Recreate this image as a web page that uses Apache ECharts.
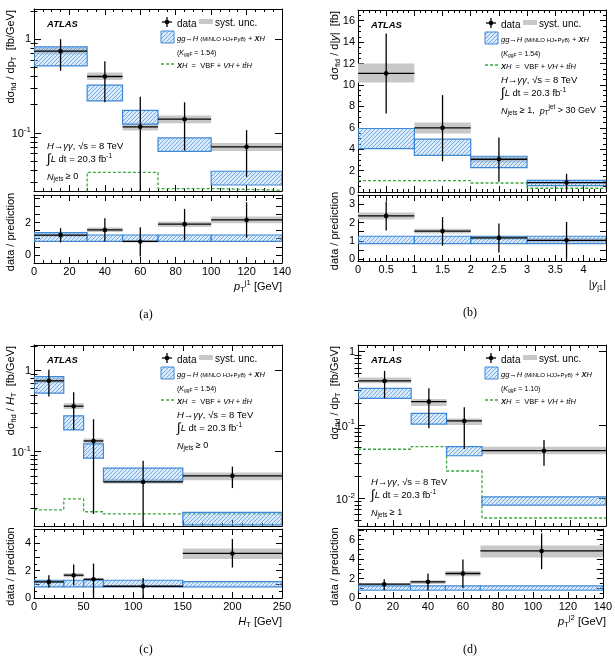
<!DOCTYPE html>
<html>
<head>
<meta charset="utf-8">
<script src="https://cdn.jsdelivr.net/npm/echarts@6/dist/echarts.min.js"></script>
<style>
html, body { margin: 0; padding: 0; background: #fff; }
#chart { width: 615px; height: 669px; }
</style>
</head>
<body>
<div id="chart"></div>
<script>
// (a) leading jet pT
var aEdges = [0, 30, 50, 70, 100, 140];
var aPointX = [15, 40, 60, 85, 120];
var aXsec = [0.745, 0.40, 0.116, 0.14, 0.071];
var aErrLo = [0.46, 0.212, 0.001, 0.065, 0.034];
var aErrHi = [1.0, 0.58, 0.243, 0.212, 0.107];
var aSystLo = [0.69, 0.366, 0.106, 0.127, 0.064];
var aSystHi = [0.81, 0.44, 0.125, 0.153, 0.078];
var aPredLo = [0.52, 0.22, 0.124, 0.0636, 0.0278];
var aPredHi = [0.83, 0.324, 0.174, 0.0886, 0.039];
var aXH = [0.02, 0.038, 0.038, 0.0255, 0.0245];
var aRatio = [1.22, 1.54, 0.83, 1.9, 2.16];
var aRatioLo = [0.77, 0.83, -0.1, 0.89, 1.07];
var aRatioHi = [1.65, 2.27, 1.71, 2.84, 3.25];
var aRatioSystLo = [1.12, 1.41, 0.76, 1.73, 1.96];
var aRatioSystHi = [1.32, 1.69, 0.9, 2.07, 2.37];
var aRatioPredLo = [0.83, 0.83, 0.83, 0.83, 0.83];
var aRatioPredHi = [1.38, 1.23, 1.23, 1.23, 1.23];

// (b) leading jet rapidity
var bEdges = [0, 1, 2, 3, 4.4];
var bPointX = [0.5, 1.5, 2.5, 3.7];
var bXsec = [11.08, 5.99, 3.06, 0.88];
var bErrLo = [7.33, 2.87, 0.96, 0.03];
var bErrHi = [14.8, 9.05, 5.1, 1.7];
var bSystLo = [10.23, 5.46, 2.78, 0.78];
var bSystHi = [12.0, 6.49, 3.34, 0.98];
var bPredLo = [4.06, 3.43, 2.28, 0.6];
var bPredHi = [5.93, 4.93, 3.34, 1.09];
var bXH = [1.07, 1.07, 0.84, 0.35];
var bRatio = [2.36, 1.53, 1.16, 1.03];
var bRatioLo = [1.56, 0.73, 0.37, 0.0];
var bRatioHi = [3.15, 2.3, 1.95, 2.03];
var bRatioSystLo = [2.17, 1.40, 1.06, 0.91];
var bRatioSystHi = [2.54, 1.66, 1.26, 1.15];
var bRatioPredLo = [0.85, 0.85, 0.85, 0.85];
var bRatioPredHi = [1.25, 1.25, 1.25, 1.25];

// (c) HT
var cEdges = [0, 30, 50, 70, 150, 250];
var cPointX = [15, 40, 60, 110, 200];
var cXsec = [0.746, 0.363, 0.135, 0.042, 0.050];
var cErrLo = [0.478, 0.185, 0.0169, 0.001, 0.0353];
var cErrHi = [1.02, 0.54, 0.25, 0.077, 0.065];
var cSystLo = [0.70, 0.334, 0.127, 0.040, 0.044];
var cSystHi = [0.81, 0.396, 0.145, 0.046, 0.055];
var cPredLo = [0.526, 0.185, 0.083, 0.0427, 0.0124];
var cPredHi = [0.84, 0.276, 0.124, 0.0624, 0.0177];
var cXH = [0.019, 0.026, 0.018, 0.0169, 0.0169];
var cRatio = [1.18, 1.67, 1.37, 0.86, 3.26];
var cRatioLo = [0.76, 0.93, 0.0, 0.0, 2.23];
var cRatioHi = [1.67, 2.45, 2.52, 1.47, 4.32];
var cRatioSystLo = [1.09, 1.52, 1.29, 0.8, 2.85];
var cRatioSystHi = [1.27, 1.82, 1.45, 0.92, 3.63];
var cRatioPredLo = [0.81, 0.81, 0.81, 0.81, 0.82];
var cRatioPredHi = [1.3, 1.3, 1.3, 1.3, 1.2];

// (d) subleading jet pT
var dEdges = [0, 30, 50, 70, 140];
var dPointX = [15, 40, 60, 105];
var dXsec = [0.398, 0.208, 0.1135, 0.0446];
var dErrLo = [0.231, 0.0902, 0.047, 0.0279];
var dErrHi = [0.546, 0.316, 0.174, 0.0624];
var dSystLo = [0.371, 0.182, 0.10, 0.0398];
var dSystHi = [0.442, 0.226, 0.123, 0.0506];
var dPredLo = [0.231, 0.103, 0.0381, 0.0081];
var dPredHi = [0.316, 0.144, 0.0506, 0.0105];
var dXH = [0.0467, 0.0506, 0.0236, 0.0054];
var dRatio = [1.42, 1.66, 2.52, 4.84];
var dRatioLo = [0.8, 0.8, 1.04, 2.97];
var dRatioHi = [1.94, 2.52, 3.97, 6.66];
var dRatioSystLo = [1.33, 1.45, 2.24, 4.18];
var dRatioSystHi = [1.52, 1.82, 2.77, 5.39];
var dRatioPredLo = [0.8, 0.8, 0.8, 0.8];
var dRatioPredHi = [1.24, 1.24, 1.24, 1.24];

var FONT = '"Liberation Sans", Arial, Helvetica, sans-serif';
var GREY = '#c8c8c8';
var BLUE = '#3f88d6';
var GREEN = '#3aa83a';

function makeHatch() {
    var c = document.createElement('canvas');
    c.width = 4; c.height = 4;
    var ctx = c.getContext('2d');
    ctx.fillStyle = 'rgba(150,195,240,0.35)';
    ctx.fillRect(0, 0, 4, 4);
    ctx.strokeStyle = '#5b9de0';
    ctx.lineWidth = 0.8;
    ctx.beginPath();
    ctx.moveTo(-1, 5); ctx.lineTo(5, -1);
    ctx.moveTo(-1, 1); ctx.lineTo(1, -1);
    ctx.moveTo(3, 5); ctx.lineTo(5, 3);
    ctx.stroke();
    return c;
}
var HATCH = {image: makeHatch(), repeat: 'repeat'};

// rich text styles with sub/superscripts, for a base font size f
function rich(f) {
    var P = 3, lh = f + 2, fs = Math.round(f * 7) / 10, slh = fs + 1;
    var mc = P + lh / 2;
    function tok(extra) {
        return Object.assign({fontFamily: FONT, fontSize: f, lineHeight: lh, padding: [P, 0, 0, 0],
            verticalAlign: 'top', fill: '#000', color: '#000'}, extra);
    }
    var sm = f * 0.8, big = f * 1.4;
    return {
        n: tok({}),
        i: tok({fontStyle: 'italic'}),
        bi: tok({fontStyle: 'italic', fontWeight: 'bold'}),
        b: tok({fontWeight: 'bold'}),
        sm: tok({fontSize: sm, lineHeight: sm + 2, padding: [mc - (sm + 2) / 2, 0, 0, 0]}),
        sub: tok({fontSize: fs, lineHeight: slh, padding: [mc + 0.2 * f - slh / 2, 0, 0, 0]}),
        sup: tok({fontSize: fs, lineHeight: slh, padding: [Math.max(0, mc - 0.4 * f - slh / 2), 0, 0, 0]}),
        big: tok({fontSize: big, lineHeight: big + 2, padding: [Math.max(0, mc - (big + 2) / 2), 0, 0, 0]})
    };
}

function txt(x, y, text, f, align, rotation) {
    return {type: 'text', x: x, y: y, rotation: rotation || 0, silent: true,
        style: {text: text, rich: rich(f), fill: '#000', fontFamily: FONT, fontSize: f,
            align: align || 'left', verticalAlign: 'middle'}};
}
function seg(x1, y1, x2, y2, color, w, dash) {
    return {type: 'line', silent: true, shape: {x1: x1, y1: y1, x2: x2, y2: y2},
        style: {stroke: color, lineWidth: w, lineDash: dash || null}};
}

var panels = [
    {label: '(a)', edges: aEdges, px: aPointX, y: aXsec, lo: aErrLo, hi: aErrHi, sLo: aSystLo, sHi: aSystHi,
     pLo: aPredLo, pHi: aPredHi, xh: aXH, r: aRatio, rLo: aRatioLo, rHi: aRatioHi, rsLo: aRatioSystLo,
     rsHi: aRatioSystHi, rpLo: aRatioPredLo, rpHi: aRatioPredHi,
     left: 34, top: 9, h: 182, rTop: 195, rH: 68,
     xs: {min: 0, max: 140, interval: 20, minor: 4},
     ys: {log: true, min: 0.024, max: 2.1},
     rys: {min: -0.5, max: 3.7, interval: 0.5, labelStep: 2, minor: 0},
     ytitle: '{n|dσ}{sub|fid}{n| / dp}{sub|T}{n|  [fb/GeV]}',
     xtitle: '{i|p}{sub|T}{sup|j1}{n| [GeV]}',
     gen: 'HJ', k: '1.54', infoLow: true, njets: '{i|N}{sub|jets}{n| ≥ 0}'},
    {label: '(b)', edges: bEdges, px: bPointX, y: bXsec, lo: bErrLo, hi: bErrHi, sLo: bSystLo, sHi: bSystHi,
     pLo: bPredLo, pHi: bPredHi, xh: bXH, r: bRatio, rLo: bRatioLo, rHi: bRatioHi, rsLo: bRatioSystLo,
     rsHi: bRatioSystHi, rpLo: bRatioPredLo, rpHi: bRatioPredHi,
     left: 358, top: 10, h: 182, rTop: 195, rH: 66,
     xs: {min: 0, max: 4.4, interval: 0.5, minor: 5},
     ys: {min: 0, max: 17, interval: 2, labelStep: 2, minor: 4},
     rys: {min: -0.1, max: 3.5, split: 7, labelStep: 1, minor: 0},
     ytitle: '{n|dσ}{sub|fid}{n| / d|}{i|y}{n||  [fb]}',
     xtitle: '{n||}{i|y}{sub|j1}{n||}',
     gen: 'HJ', k: '1.54', infoLow: false,
     njets: '{i|N}{sub|jets}{n| ≥ 1,  }{i|p}{sub|T}{sup|jet}{n| > 30 GeV}'},
    {label: '(c)', edges: cEdges, px: cPointX, y: cXsec, lo: cErrLo, hi: cErrHi, sLo: cSystLo, sHi: cSystHi,
     pLo: cPredLo, pHi: cPredHi, xh: cXH, r: cRatio, rLo: cRatioLo, rHi: cRatioHi, rsLo: cRatioSystLo,
     rsHi: cRatioSystHi, rpLo: cRatioPredLo, rpHi: cRatioPredHi,
     left: 34, top: 345, h: 181, rTop: 529, rH: 69,
     xs: {min: 0, max: 250, interval: 50, minor: 5},
     ys: {log: true, min: 0.012, max: 2.07},
     rys: {min: 0, max: 5.05, interval: 1, labelStep: 2, minor: 2},
     ytitle: '{n|dσ}{sub|fid}{n| / }{i|H}{sub|T}{n|  [fb/GeV]}',
     xtitle: '{i|H}{sub|T}{n| [GeV]}',
     gen: 'HJ', k: '1.54', infoLow: false, njets: '{i|N}{sub|jets}{n| ≥ 0}'},
    {label: '(d)', edges: dEdges, px: dPointX, y: dXsec, lo: dErrLo, hi: dErrHi, sLo: dSystLo, sHi: dSystHi,
     pLo: dPredLo, pHi: dPredHi, xh: dXH, r: dRatio, rLo: dRatioLo, rHi: dRatioHi, rsLo: dRatioSystLo,
     rsHi: dRatioSystHi, rpLo: dRatioPredLo, rpHi: dRatioPredHi,
     left: 358, top: 345, h: 181, rTop: 529, rH: 69,
     xs: {min: 0, max: 140, interval: 20, minor: 4},
     ys: {log: true, min: 0.0042, max: 1.23},
     rys: {min: 0, max: 7.1, interval: 1, labelStep: 2, minor: 2},
     ytitle: '{n|dσ}{sub|fid}{n| / dp}{sub|T}{n|  [fb/GeV]}',
     xtitle: '{i|p}{sub|T}{sup|j2}{n| [GeV]}',
     gen: 'HJJ', k: '1.10', infoLow: true, njets: '{i|N}{sub|jets}{n| ≥ 1}'}
];

var AXLINE = {onZero: false, lineStyle: {color: '#000', width: 1}};
var LABEL = {fontFamily: FONT, fontSize: 11, color: '#000'};

function stepLabel(step) {
    return function (v) {
        var q = v / step;
        return Math.abs(q - Math.round(q)) < 1e-6 ? String(+v.toFixed(4)) : '';
    };
}
function logLabel(v) {
    var l = Math.log10(v), r = Math.round(l);
    if (Math.abs(l - r) > 1e-4) return '';
    return r === 0 ? '{b|1}' : '{b|10}{s|' + r + '}';
}

function xAxes(g, s, labels) {
    var common = {type: 'value', gridIndex: g, min: s.min, max: s.max, interval: s.interval,
        axisLine: AXLINE, splitLine: {show: false},
        axisTick: {inside: true, length: 6, lineStyle: {color: '#000'}},
        minorTick: {show: true, splitNumber: s.minor, length: 3, lineStyle: {color: '#000'}}};
    return [
        Object.assign({}, common, {position: 'bottom', axisLabel: labels
            ? Object.assign({margin: 3, formatter: stepLabel(s.interval)}, LABEL) : {show: false}}),
        Object.assign({}, common, {position: 'top', axisLabel: {show: false}})
    ];
}

function yAxes(g, s) {
    if (s.log) {
        var minors = [];
        for (var k = Math.floor(Math.log10(s.min)); k <= Math.ceil(Math.log10(s.max)); k++) {
            for (var m = 2; m <= 9; m++) {
                var v = m * Math.pow(10, k);
                if (v > s.min && v < s.max) minors.push(v);
            }
        }
        var lc = {type: 'log', logBase: 10, gridIndex: g, min: s.min, max: s.max,
            axisLine: AXLINE, splitLine: {show: false},
            axisTick: {inside: true, length: 7, lineStyle: {color: '#000'}}};
        var mc = Object.assign({}, lc, {axisLine: {show: false}, axisLabel: {show: false},
            axisTick: {inside: true, length: 3.5, customValues: minors, lineStyle: {color: '#000'}}});
        return [
            Object.assign({}, lc, {position: 'left', axisLabel: Object.assign({margin: 3, formatter: logLabel,
                rich: {b: {fontFamily: FONT, fontSize: 11, color: '#000', verticalAlign: 'bottom'},
                       s: {fontFamily: FONT, fontSize: 8, color: '#000', verticalAlign: 'top', padding: [0, 0, 6, 0]}}}, LABEL)}),
            Object.assign({}, lc, {position: 'right', axisLabel: {show: false}}),
            Object.assign({}, mc, {position: 'left'}),
            Object.assign({}, mc, {position: 'right'})
        ];
    }
    var common = {type: 'value', gridIndex: g, min: s.min, max: s.max, interval: s.interval,
        splitNumber: s.split || 5, axisLine: AXLINE, splitLine: {show: false},
        axisTick: {inside: true, length: 6, lineStyle: {color: '#000'}},
        minorTick: {show: s.minor > 0, splitNumber: s.minor || 2, length: 3, lineStyle: {color: '#000'}}};
    return [
        Object.assign({}, common, {position: 'left',
            axisLabel: Object.assign({margin: 3, formatter: stepLabel(s.labelStep)}, LABEL)}),
        Object.assign({}, common, {position: 'right', axisLabel: {show: false}})
    ];
}

function bins(edges, lo, hi) {
    return lo.map(function (v, i) { return [edges[i], edges[i + 1], v, hi[i]]; });
}
function points(edges, px, y, lo, hi) {
    return y.map(function (v, i) { return [edges[i], edges[i + 1], px[i], v, lo[i], hi[i]]; });
}
function steps(edges, v) {
    return edges.map(function (e, i) { return [e, v[Math.min(i, v.length - 1)]]; });
}

function boxSeries(xi, yi, data, style, z) {
    return {type: 'custom', xAxisIndex: xi, yAxisIndex: yi, clip: true, silent: true, z: z,
        encode: {x: [0, 1], y: [2, 3]}, data: data,
        renderItem: function (params, api) {
            var a = api.coord([api.value(0), api.value(3)]);
            var b = api.coord([api.value(1), api.value(2)]);
            return {type: 'rect', shape: {x: a[0], y: a[1], width: b[0] - a[0], height: b[1] - a[1]}, style: style};
        }};
}
function dataSeries(xi, yi, data) {
    return {type: 'custom', xAxisIndex: xi, yAxisIndex: yi, clip: true, silent: true, z: 5,
        encode: {x: [0, 1, 2], y: [3, 4, 5]}, data: data,
        renderItem: function (params, api) {
            var l = api.coord([api.value(0), api.value(3)]);
            var r = api.coord([api.value(1), api.value(3)]);
            var t = api.coord([api.value(2), api.value(5)]);
            var b = api.coord([api.value(2), api.value(4)]);
            var ln = {stroke: '#000', lineWidth: 1.3};
            return {type: 'group', children: [
                {type: 'line', shape: {x1: l[0], y1: l[1], x2: r[0], y2: r[1]}, style: ln},
                {type: 'line', shape: {x1: t[0], y1: t[1], x2: b[0], y2: b[1]}, style: ln},
                {type: 'circle', shape: {cx: t[0], cy: l[1], r: 2.3}, style: {fill: '#000'}}
            ]};
        }};
}

var option = {animation: false, backgroundColor: '#fff', grid: [], xAxis: [], yAxis: [], series: [], graphic: {elements: []}};
var els = option.graphic.elements;
var PRED = {fill: HATCH, stroke: BLUE, lineWidth: 1.2};

panels.forEach(function (p) {
    var right = p.left + 248;
    var g = option.grid.length;
    option.grid.push({left: p.left, top: p.top, width: 248, height: p.h});
    option.grid.push({left: p.left, top: p.rTop, width: 248, height: p.rH});
    var xm = option.xAxis.length;
    option.xAxis = option.xAxis.concat(xAxes(g, p.xs, false));
    var xr = option.xAxis.length;
    option.xAxis = option.xAxis.concat(xAxes(g + 1, p.xs, true));
    var ym = option.yAxis.length;
    option.yAxis = option.yAxis.concat(yAxes(g, p.ys));
    var yr = option.yAxis.length;
    option.yAxis = option.yAxis.concat(yAxes(g + 1, p.rys));

    // main panel
    option.series.push(boxSeries(xm, ym, bins(p.edges, p.sLo, p.sHi), {fill: GREY}, 1));
    option.series.push({type: 'line', xAxisIndex: xm, yAxisIndex: ym, step: 'end', showSymbol: false,
        symbol: 'none', clip: true, silent: true, z: 2, data: steps(p.edges, p.xh),
        lineStyle: {color: GREEN, width: 1.3, type: [3, 2]}});
    option.series.push(boxSeries(xm, ym, bins(p.edges, p.pLo, p.pHi), PRED, 3));
    option.series.push(dataSeries(xm, ym, points(p.edges, p.px, p.y, p.lo, p.hi)));

    // ratio panel
    option.series.push(boxSeries(xr, yr, bins(p.edges, p.rsLo, p.rsHi), {fill: GREY}, 1));
    option.series.push(boxSeries(xr, yr, bins(p.edges, p.rpLo, p.rpHi), PRED, 3));
    option.series.push(dataSeries(xr, yr, points(p.edges, p.px, p.r, p.rLo, p.rHi)));

    // titles
    els.push(txt(p.left - 25, p.top + 1, p.ytitle, 11, 'right', Math.PI / 2));
    els.push(txt(p.left - 25, p.rTop + p.rH / 2 + 3, '{n|data / prediction}', 11, 'center', Math.PI / 2));
    els.push(txt(right, p.rTop + p.rH + 22, p.xtitle, 11, 'right'));
    els.push({type: 'text', x: p.left + 112, y: p.rTop + p.rH + 52, silent: true,
        style: {text: p.label, fill: '#000', fontFamily: '"Liberation Serif", "DejaVu Serif", serif',
            fontSize: 12, align: 'center', verticalAlign: 'middle'}});
    els.push(txt(p.left + 13, p.top + 13, '{bi|ATLAS}', 9.5));

    // legend
    var x0 = right - 121, y0 = p.top + 13;
    els.push(seg(x0 + 1, y0, x0 + 11, y0, '#000', 1.3));
    els.push(seg(x0 + 6, y0 - 5, x0 + 6, y0 + 5, '#000', 1.3));
    els.push({type: 'circle', silent: true, shape: {cx: x0 + 6, cy: y0, r: 2.3}, style: {fill: '#000'}});
    els.push(txt(x0 + 16, y0, '{n|data}', 10));
    els.push({type: 'rect', silent: true, shape: {x: x0 + 38, y: y0 - 3, width: 14, height: 5}, style: {fill: GREY}});
    els.push(txt(x0 + 54, y0 - 1, '{n|syst. unc.}', 10));
    els.push({type: 'rect', silent: true, shape: {x: x0, y: y0 + 9, width: 13, height: 12},
        style: {fill: HATCH, stroke: BLUE, lineWidth: 1}});
    els.push(txt(x0 + 16, y0 + 15, '{i|gg}{n|→}{i|H}{n| }{sm|(MiNLO ' + p.gen + '+Py8)}{n| + }{bi|X}{i|H}', 7.5));
    els.push(txt(x0 + 16, y0 + 29, '{n|(}{i|K}{sub|ggF}{n| = ' + p.k + ')}', 7));
    els.push(seg(x0, y0 + 42, x0 + 13, y0 + 42, GREEN, 1.3, [3, 2]));
    els.push(txt(x0 + 16, y0 + 42, '{bi|X}{i|H}{n|  =  VBF + }{i|VH}{n| + }{i|tt̄H}', 7.5));

    // analysis info
    var ix = p.infoLow ? p.left + 13 : x0 + 16;
    var iy = p.infoLow ? p.top + 135 : y0 + 55;
    els.push(txt(ix, iy, '{i|H}{n|→}{i|γγ}{n|, √s = 8 TeV}', 9.5));
    els.push(txt(ix, iy + 15, '{big|∫}{i|L}{n| dt = 20.3 fb}{sup|-1}', 9.5));
    els.push(txt(ix, iy + 31, p.njets, 9));
});

var chart = echarts.init(document.getElementById('chart'), null, {renderer: 'canvas'});
chart.setOption(option);
</script>
</body>
</html>
